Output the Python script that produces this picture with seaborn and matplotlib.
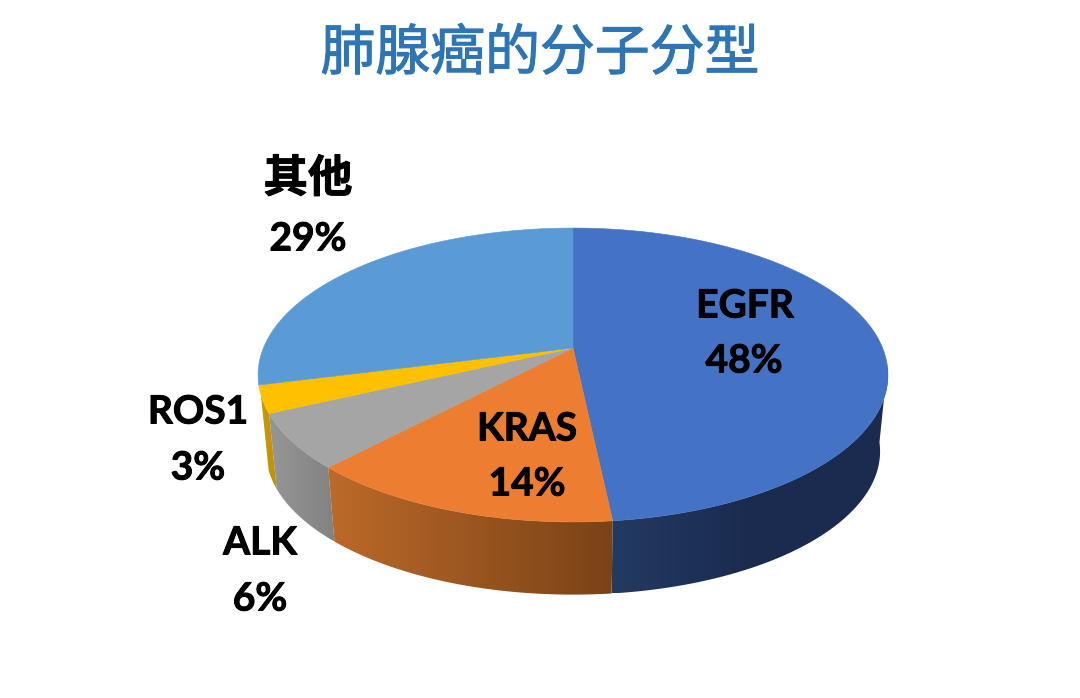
import numpy as np
import seaborn as sns
import matplotlib.pyplot as plt
import matplotlib.patheffects as pe
from matplotlib.colors import LinearSegmentedColormap
from matplotlib.patches import Polygon

# data
categories = ["EGFR", "KRAS", "ALK", "ROS1", "其他"]
percents = [48.33, 13.67, 6, 3, 29]
title = "肺腺癌的分子分型"

top_colors = sns.color_palette(["#4472C4", "#ED7D31", "#A5A5A5", "#FFC000", "#5B9BD5"])
side_colors = [("#233A62", "#1A2B4F", "#1A2B4F"), ("#BC6A29", "#7A4217"), ("#969696", "#828282"),
               ("#CC9A08", "#C08F05"), None]

sns.set_theme(style="white")
plt.rcParams["font.family"] = ["Lato", "Noto Sans CJK SC", "DejaVu Sans"]

fig = plt.figure(figsize=(10.8, 6.98), dpi=100)
ax = fig.add_axes([0, 0, 1, 1])
ax.axis("off")

# pie geometry: perspective view of a flat disc
cx, cy = 573, 348
b, a, k = 309.6, 142.0, 0.1837
scale_low, drop = 0.975, 77


def rim(theta, low=False):
    t = np.radians(theta)
    w = 1 + k * np.cos(t)
    xs = b * np.sin(t) / w
    ys = a * np.cos(t) / w
    if low:
        return cx + scale_low * xs, cy - scale_low * ys + drop
    return cx + xs, cy - ys


edges = np.concatenate([[0], np.cumsum(percents)]) * 3.6
front_start, front_end = 97, 252

# sides first, back to front
for i in [3, 2, 1, 0]:
    th = np.linspace(max(edges[i], front_start), min(edges[i + 1], front_end), 80)
    xt, yt = rim(th)
    xb, yb = rim(th, low=True)
    pts = np.column_stack([np.r_[xt, xb[::-1]], np.r_[yt, yb[::-1]]])
    poly = Polygon(pts, closed=True, facecolor="none", edgecolor="none", transform=ax.transData)
    ax.add_patch(poly)
    cmap = LinearSegmentedColormap.from_list("side", side_colors[i])
    # gradient runs opposite way on the blue side, dark towards the right
    im = ax.imshow(np.linspace(0, 1, 256).reshape(1, -1), cmap=cmap, aspect="auto", zorder=2,
                   extent=[pts[:, 0].min(), pts[:, 0].max(), pts[:, 1].max(), pts[:, 1].min()])
    im.set_clip_path(poly)

ax.set_xlim(0, 1080)
ax.set_ylim(698, 0)

# top surface
for i, color in enumerate(top_colors):
    th = np.linspace(edges[i], edges[i + 1], 150)
    xt, yt = rim(th)
    ax.fill(np.r_[cx, xt], np.r_[cy, yt], color=color, linewidth=0.4, zorder=3)

# labels
thicker = [pe.withStroke(linewidth=0.7, foreground="black")]
name_pos = [(745, 306), (527, 429), (260, 543), (198, 412), (308, 178)]
pct_pos = [(744, 361), (527, 484), (260, 599), (198, 468), (308, 239)]
for name, pct, p1, p2 in zip(categories, percents, name_pos, pct_pos):
    cjk = not name.isascii()
    ax.text(p1[0], p1[1], name, ha="center", va="center", fontsize=32 if cjk else 28,
            fontweight="bold", color="black", zorder=5, path_effects=thicker)
    ax.text(p2[0], p2[1], f"{pct:.0f}%", ha="center", va="center", fontsize=28,
            fontweight="bold", color="black", zorder=5, path_effects=thicker)

ax.text(540, 54, title, ha="center", va="center", fontsize=39.5, color="#2E75B6",
        fontweight="medium", family=["Noto Sans CJK SC", "DejaVu Sans"], zorder=5,
        path_effects=[pe.withStroke(linewidth=0.8, foreground="#2E75B6")])

fig.savefig("out.png", dpi=100, facecolor="white")
